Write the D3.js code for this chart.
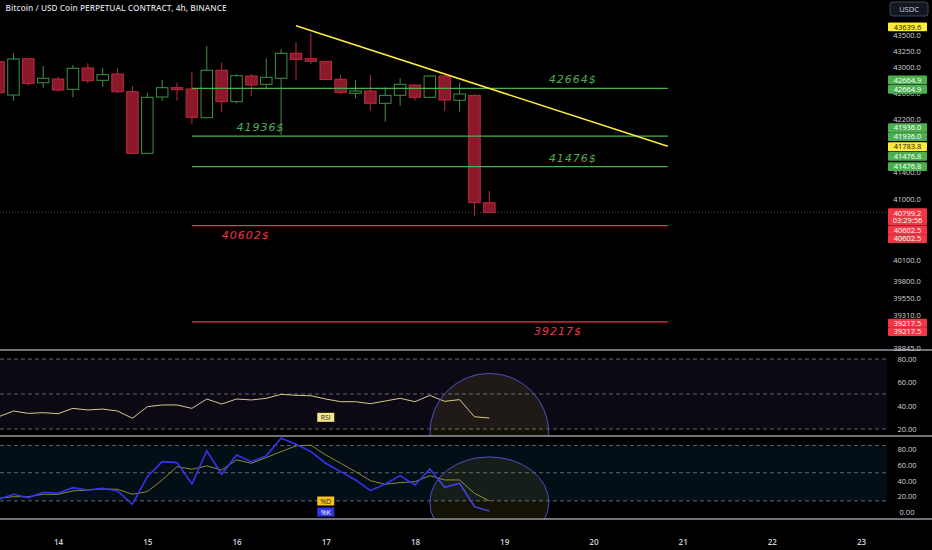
<!DOCTYPE html>
<html><head><meta charset="utf-8">
<script src="https://cdn.jsdelivr.net/npm/d3@7"></script>
<style>html,body{margin:0;padding:0;background:#000;overflow:hidden}svg{display:block}</style>
</head><body><svg id="c" width="932" height="550"></svg>
<script>
// ---------------- DATA ----------------
const title = "Bitcoin / USD Coin PERPETUAL CONTRACT, 4h, BINANCE";
const firstCandle = "2023-12-13T08:00Z";
const openP  = [43078,42563,43125,42752,42810,42651,42981,42790,42887,42614,41677,42533,42676,42656,42216,42945,42461,42856,42728,42821,43209,43125,43084,42806,42590,42625,42436,42559,42717,42528,42856,42482,42559,40941];
const highP  = [43104,43209,43130,43011,42846,43027,43054,42981,42976,42702,42599,42794,42752,42923,43323,43063,42887,42887,43131,43271,43382,43522,43089,42872,42794,42872,42683,42821,42732,42864,42861,42752,42574,41114];
const lowP   = [42563,42476,42707,42676,42614,42528,42743,42691,42590,41667,41667,42471,42476,42120,42207,42299,42436,42548,42667,41954,42794,43038,42794,42574,42513,42323,42155,42400,42476,42518,42323,42308,40749,40790];
const closeP = [42599,43120,42743,42821,42640,42976,42784,42877,42614,41677,42528,42676,42645,42222,42945,42461,42861,42717,42836,43209,43115,43084,42803,42605,42625,42436,42559,42728,42528,42856,42487,42579,40941,40799.2];
const rsi    = [30.5,35.4,33.4,34,33.1,37.7,36.3,37.1,35.4,29.2,39.1,40.6,40.6,37.7,45.7,41.4,45.7,44.9,46.3,49.7,48.9,48.5,45.7,43.4,43.4,41.7,44,46.3,43.4,48.8,43.7,45.2,30.5,29.4];
const stochK = [16.5,22.8,18.5,25.3,24,31.1,28.2,30.4,27,10.1,45,64,62.8,35.8,77.6,48.1,72.5,64,71.3,93.7,86.1,76.7,62,51.4,40.9,27.3,35.8,46.3,34.6,54.8,31.6,36.7,7.1,1.6];
const stochD = [17.7,19.7,19.7,22.8,22.8,27,28.2,29.5,29.1,22.8,26.1,40.9,57.7,54.4,58.6,53.5,66.2,62,69.1,76.7,83.9,84.8,72.5,62,51.4,40,35.4,37.5,38.7,46.3,40.9,40.9,24,14.3];
const currentPrice = 40799.2;
const countdown = "03:29:56";

const priceTicks = [43500,43250,43000,42600,42200,41400,41000,40100,39800,39550,39310,38845];
const rsiTicks = [80,60,40,20];
const rsiBands = [80,50,20];
const stochTicks = [80,60,40,20,0];
const stochBands = [84.5,50,14.5];
const dayTicks = ["2023-12-14","2023-12-15","2023-12-16","2023-12-17","2023-12-18","2023-12-19","2023-12-20","2023-12-21","2023-12-22","2023-12-23"];

// drawings
const trendFrom = {t:"2023-12-16T16:00Z", p:43639.6};
const trendTo   = {t:"2023-12-20T20:00Z", p:41783.8};
const levelFrom = "2023-12-15T12:00Z", levelTo = "2023-12-20T20:00Z";
const levelPrices = [42664.9, 41936.0, 41476.8, 40602.5, 39217.5];
const levelTexts  = ["42664$","41936$","41476$","40602$","39217$"];
const levelTextAt = ["2023-12-19T12:00Z","2023-12-16T00:00Z","2023-12-19T12:00Z","2023-12-15T20:00Z","2023-12-19T08:00Z"];
const circleFrom = "2023-12-18T04:00Z", circleTo = "2023-12-19T12:00Z";
const rsiCircle = [67.7, -35];     // top / bottom in RSI units
const stochCircle = [70, -45];     // top / bottom in Stoch units
const rsiLabelAt = {t:"2023-12-17T00:00Z", v:30};
const stochDLabelAt = {t:"2023-12-17T00:00Z", v:14.3};
const stochKLabelAt = {t:"2023-12-17T00:00Z", v:0.4};

// price-scale badges: text, price, kind
const badgeText  = ["43639.6","42664.9","42664.9","41936.0","41936.0","41783.8","41476.8","41476.8","40602.5","40602.5","39217.5","39217.5"];
const badgePrice = [43639.6,42664.9,42664.9,41936.0,41936.0,41783.8,41476.8,41476.8,40602.5,40602.5,39217.5,39217.5];
const badgeKind  = ["y","g","g","g","g","y","g","g","r","r","r","r"];

// ---------------- LAYOUT / STYLE ----------------
const badgeShift = [1,-8.4,0.9,-8.4,0.5,0.5,-10.3,0,4.3,13,1.2,9.7];
const PANE_W = 887;
const GREEN = "#4caf50", RED = "#f23645", YELLOW = "#ffeb3b";
const AX = "#d1d4dc";
const FONT = "'Open Sans', sans-serif";

const svg = d3.select("#c");
svg.append("rect").attr("width",932).attr("height",550).attr("fill","#000");

const x = d3.scaleUtc().domain([new Date("2023-12-15T00:00Z"), new Date("2023-12-23T00:00Z")]).range([147.3, 861.1]);
const y = d3.scaleLog().domain([43500, 38845]).range([34.7, 348.3]);
const yR = d3.scaleLinear().domain([20,80]).range([429,359]);
const yS = d3.scaleLinear().domain([0,80]).range([512.3,449]);
const t0 = Date.parse(firstCandle);
const times = openP.map((_,k)=> new Date(t0 + k*4*3600e3));
const T = s => new Date(s);

const defs = svg.append("defs");
function clip(id, y0, h){ defs.append("clipPath").attr("id",id).append("rect").attr("x",0).attr("y",y0).attr("width",PANE_W).attr("height",h); }
clip("cm",0,350); clip("cr",351,85); clip("cs",437,82);

// ---------------- MAIN PANE ----------------
const main = svg.append("g").attr("clip-path","url(#cm)");
main.append("line").attr("x1",0).attr("x2",PANE_W).attr("y1",y(currentPrice)).attr("y2",y(currentPrice))
  .attr("stroke","#787b86").attr("stroke-width",1).attr("stroke-dasharray","1,2").attr("opacity",0.6);

const bw = 11.5;
const cg = main.append("g");
times.forEach((tm,k)=>{
  const up = closeP[k] >= openP[k];
  const cx = x(tm);
  const stroke = up ? "#3d9346" : "#c0283d";
  cg.append("line").attr("x1",cx).attr("x2",cx).attr("y1",y(highP[k])).attr("y2",y(lowP[k])).attr("stroke",stroke).attr("stroke-width",1);
  const yt = y(Math.max(openP[k],closeP[k])), yb = y(Math.min(openP[k],closeP[k]));
  cg.append("rect").attr("x",cx-bw/2).attr("y",yt).attr("width",bw).attr("height",Math.max(1,yb-yt))
    .attr("fill", up ? "#000" : "#8a1a2b").attr("stroke",stroke).attr("stroke-width",1);
});

levelPrices.forEach((p,k)=>{
  const col = p > currentPrice ? GREEN : RED;
  const ly = y(p);
  main.append("line").attr("x1",x(T(levelFrom))).attr("x2",x(T(levelTo))).attr("y1",ly).attr("y2",ly)
    .attr("stroke",col).attr("stroke-width",1.3);
  main.append("text").attr("x",x(T(levelTextAt[k]))).attr("y", p > currentPrice ? ly-5 : ly+13)
    .attr("fill",col).attr("font-family","'DejaVu Sans', sans-serif").attr("font-style","italic")
    .attr("font-size",11).attr("letter-spacing",1).text(levelTexts[k]);
});

main.append("line").attr("x1",x(T(trendFrom.t))).attr("y1",y(trendFrom.p)).attr("x2",x(T(trendTo.t))).attr("y2",y(trendTo.p))
  .attr("stroke",YELLOW).attr("stroke-width",1.5);

svg.append("text").attr("x",5.5).attr("y",11).attr("fill",AX).attr("font-family",FONT).attr("font-weight",600)
  .attr("font-size",8.3).text(title);

// ---------------- RSI PANE ----------------
const rp = svg.append("g").attr("clip-path","url(#cr)");
rp.append("rect").attr("x",0).attr("width",PANE_W).attr("y",yR(80)).attr("height",yR(20)-yR(80)).attr("fill","rgba(126,87,194,0.1)");
rsiBands.forEach(v=> rp.append("line").attr("x1",0).attr("x2",PANE_W).attr("y1",yR(v)).attr("y2",yR(v))
  .attr("stroke","#787b86").attr("stroke-width",0.8).attr("stroke-dasharray","4,3"));
rp.append("path").datum(rsi).attr("fill","none").attr("stroke","#d5c78e").attr("stroke-width",1)
  .attr("d", d3.line().x((d,k)=>x(times[k])).y(d=>yR(d)));
function ellipse(g, sc, tb){
  const x1 = x(T(circleFrom)), x2 = x(T(circleTo));
  const y1 = sc(tb[0]), y2 = sc(tb[1]);
  g.append("ellipse").attr("cx",(x1+x2)/2).attr("cy",(y1+y2)/2).attr("rx",(x2-x1)/2).attr("ry",(y2-y1)/2)
    .attr("fill","rgba(255,235,59,0.08)").attr("stroke","#4b4fc4").attr("stroke-width",1);
}
ellipse(rp, yR, rsiCircle);
function tag(g, cx, cy, txt, bg, fg){
  g.append("rect").attr("x",cx-8.5).attr("y",cy-4.5).attr("width",17).attr("height",9).attr("fill",bg);
  g.append("text").attr("x",cx).attr("y",cy+2.6).attr("text-anchor","middle").attr("fill",fg)
    .attr("font-family",FONT).attr("font-size",7).text(txt);
}
tag(rp, x(T(rsiLabelAt.t)), yR(rsiLabelAt.v), "RSI", "#f5e98a", "#222");

// ---------------- STOCH PANE ----------------
const sp = svg.append("g").attr("clip-path","url(#cs)");
sp.append("rect").attr("x",0).attr("width",PANE_W).attr("y",yS(stochBands[0])).attr("height",yS(stochBands[2])-yS(stochBands[0])).attr("fill","rgba(33,150,243,0.09)");
stochBands.forEach(v=> sp.append("line").attr("x1",0).attr("x2",PANE_W).attr("y1",yS(v)).attr("y2",yS(v))
  .attr("stroke","#787b86").attr("stroke-width",0.8).attr("stroke-dasharray","4,3"));
const sl = d3.line().x((d,k)=>x(times[k])).y(d=>yS(d));
sp.append("path").datum(stochD).attr("fill","none").attr("stroke","#8c8a32").attr("stroke-width",1).attr("d",sl);
sp.append("path").datum(stochK).attr("fill","none").attr("stroke","#3434f0").attr("stroke-width",1.6).attr("d",sl);
ellipse(sp, yS, stochCircle);
tag(svg, x(T(stochDLabelAt.t)), yS(stochDLabelAt.v), "%D", "#f5c21b", "#222");
tag(svg, x(T(stochKLabelAt.t)), yS(stochKLabelAt.v), "%K", "#3434e6", "#fff");

// ---------------- SEPARATORS ----------------
[350,436,519].forEach(v=> svg.append("line").attr("x1",0).attr("x2",932).attr("y1",v).attr("y2",v)
  .attr("stroke","#9598a1").attr("stroke-width",1.4));

// ---------------- AXES ----------------
const pa = svg.append("g").attr("transform","translate(907,0)")
  .call(d3.axisRight(y).tickValues(priceTicks).tickFormat(d3.format(".1f")).tickSize(0));
const ra = svg.append("g").attr("transform","translate(907,0)")
  .call(d3.axisRight(yR).tickValues(rsiTicks).tickFormat(d3.format(".2f")).tickSize(0));
const sa = svg.append("g").attr("transform","translate(907,0)")
  .call(d3.axisRight(yS).tickValues(stochTicks).tickFormat(d3.format(".2f")).tickSize(0));
[pa,ra,sa].forEach(a=>{
  a.select(".domain").remove();
  a.selectAll("text").attr("x",0).attr("text-anchor","middle").attr("fill",AX)
    .attr("font-family",FONT).attr("font-size",7.5);
});
const ta = svg.append("g").attr("transform","translate(0,536)")
  .call(d3.axisBottom(x).tickValues(dayTicks.map(d=>new Date(d+"T00:00Z"))).tickFormat(d3.utcFormat("%-d")).tickSize(0));
ta.select(".domain").remove();
ta.selectAll("text").attr("fill",AX).attr("font-family",FONT).attr("font-size",8).attr("font-weight",600);

const bcol = {y:YELLOW, g:GREEN, r:RED};
badgeText.forEach((s,k)=>{
  const cy = y(badgePrice[k]) + badgeShift[k];
  svg.append("rect").attr("x",888).attr("y",cy-4.4).attr("width",39).attr("height",8.8).attr("rx",1).attr("fill",bcol[badgeKind[k]]);
  svg.append("text").attr("x",907.5).attr("y",cy+2.7).attr("text-anchor","middle").attr("font-family",FONT)
    .attr("font-size",7.5).attr("fill", badgeKind[k]==="y" ? "#111" : "#fff").text(s);
});
{
  const cy = y(currentPrice);
  svg.append("rect").attr("x",888).attr("y",cy-4).attr("width",39).attr("height",17).attr("rx",1).attr("fill",RED);
  svg.append("text").attr("x",907.5).attr("y",cy+3.2).attr("text-anchor","middle").attr("font-family",FONT)
    .attr("font-size",7.5).attr("fill","#fff").text(d3.format(".1f")(currentPrice));
  svg.append("text").attr("x",907.5).attr("y",cy+11).attr("text-anchor","middle").attr("font-family",FONT)
    .attr("font-size",7.5).attr("fill","#fff").text(countdown);
}
svg.append("rect").attr("x",890).attr("y",2).attr("width",38).attr("height",14).attr("rx",3)
  .attr("fill","#131722").attr("stroke","#434651").attr("stroke-width",1);
svg.append("text").attr("x",909).attr("y",11.7).attr("text-anchor","middle").attr("font-family",FONT)
  .attr("font-size",7.5).attr("fill",AX).text("USDC");
</script>
</body></html>
